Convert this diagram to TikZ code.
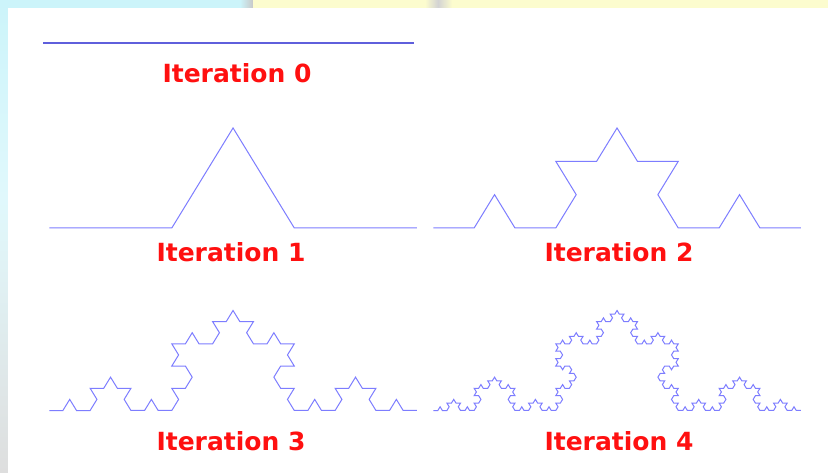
\documentclass[tikz,border=0pt]{standalone}
\usepackage{fontspec}
\setmainfont{DejaVu Sans}
\usetikzlibrary{lindenmayersystems}
\pgfdeclarelindenmayersystem{Koch}{\rule{F -> F+F--F+F}}
\definecolor{curve}{RGB}{125,125,255}
\definecolor{curvezero}{RGB}{95,95,220}
\definecolor{labelred}{RGB}{255,16,16}
\definecolor{bgcyan}{RGB}{204,244,250}
\definecolor{bgyellow}{RGB}{252,252,206}
\definecolor{bggray}{RGB}{200,200,200}
\tikzset{
  kochline/.style={draw=curve, line width=1pt, line join=miter},
  itlabel/.style={text=labelred, font=\fontsize{25}{28}\selectfont\bfseries, inner sep=0pt, anchor=center}
}
\begin{document}
\begin{tikzpicture}[x=1pt,y=-1pt]
\useasboundingbox (0,0) rectangle (828,473);
% background
\fill[white] (0,0) rectangle (828,473);
\shade[top color=bgcyan, bottom color=bgcyan!60!white] (0,0) rectangle (8,200);
\shade[top color=bgcyan!60!white, bottom color=bggray!60!white] (0,200) rectangle (8,473);
\fill[bgcyan] (0,0) rectangle (240,8);
\shade[left color=bgcyan, right color=bggray] (240,0) rectangle (253,8);
\fill[bgyellow] (253,0) rectangle (828,8);
\shade[left color=bgyellow, right color=bggray!80!white] (425,0) rectangle (438,8);
\shade[left color=bggray!80!white, right color=bgyellow] (438,0) rectangle (452,8);
\fill[white] (8,8) rectangle (828,473);
% iteration 0
\coordinate (z0) at (43,43);
\coordinate (z1) at (414,43);
\draw[draw=curvezero, line width=1.6pt] (z0) -- (z1);
\node[itlabel] (l0) at (237,73) {Iteration 0};
% iteration 1
\begin{scope}[shift={(49.3,228)}, yscale=0.943]
\draw[kochline] [lindenmayer system={Koch, axiom=F, order=1, step=122.5pt, angle=60}] lindenmayer system;
\end{scope}
\node[itlabel] (l1) at (231,252.5) {Iteration 1};
% iteration 2
\begin{scope}[shift={(433.3,228)}, yscale=0.943]
\draw[kochline] [lindenmayer system={Koch, axiom=F, order=2, step=40.83pt, angle=60}] lindenmayer system;
\end{scope}
\node[itlabel] (l2) at (619,252.5) {Iteration 2};
% iteration 3
\begin{scope}[shift={(49.3,410.5)}, yscale=0.943]
\draw[kochline] [lindenmayer system={Koch, axiom=F, order=3, step=13.61pt, angle=60}] lindenmayer system;
\end{scope}
\node[itlabel] (l3) at (231,441) {Iteration 3};
% iteration 4
\begin{scope}[shift={(433.3,410.5)}, yscale=0.943]
\draw[kochline] [lindenmayer system={Koch, axiom=F, order=4, step=4.537pt, angle=60}] lindenmayer system;
\end{scope}
\node[itlabel] (l4) at (619,441) {Iteration 4};
\end{tikzpicture}
\end{document}
